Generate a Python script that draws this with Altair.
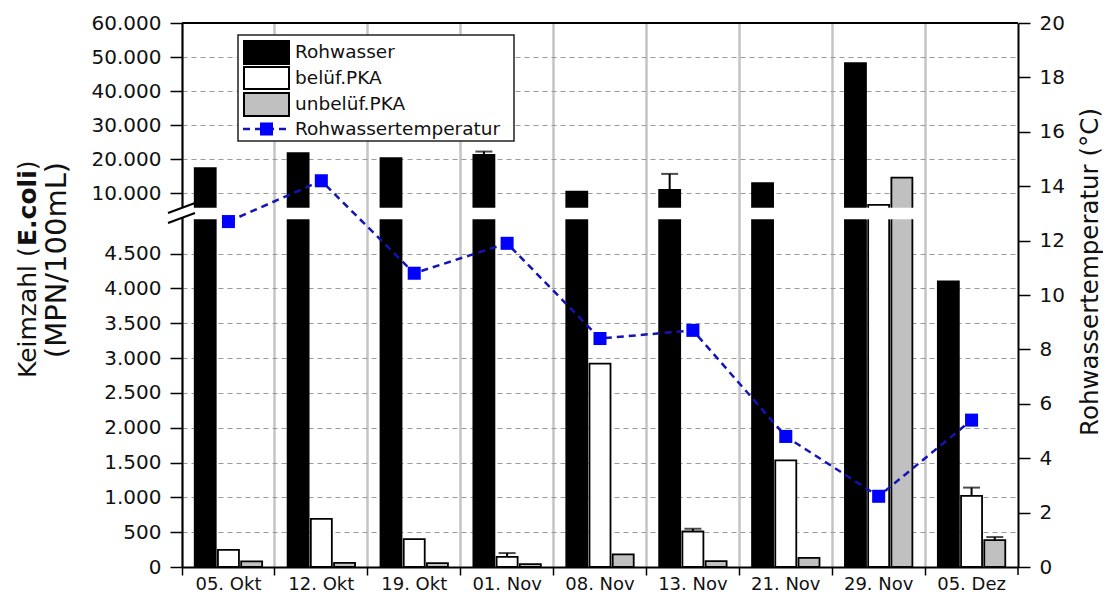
import altair as alt
import pandas as pd

# ---------------- data ----------------
dates = ["05. Okt", "12. Okt", "19. Okt", "01. Nov", "08. Nov",
         "13. Nov", "21. Nov", "29. Nov", "05. Dez"]
series = ["Rohwasser", "belüf.PKA", "unbelüf.PKA"]
rohwasser = [17400, 21800, 20300, 21300, 10500, 11000, 13000, 48200, 4100]
rohwasser_err = [None, None, None, 22260, None, 15700, None, None, None]
beluef = [245, 690, 400, 145, 2920, 510, 1530, 6600, 1020]
beluef_err = [None, None, None, 200, None, 550, None, None, 1140]
unbeluef = [80, 60, 55, 40, 180, 85, 130, 14600, 385]
unbeluef_err = [None, None, None, None, None, None, None, None, 430]
temperature = [12.7, 14.2, 10.8, 11.9, 8.4, 8.7, 4.8, 2.6, 5.4]
left_ticks = [0, 500, 1000, 1500, 2000, 2500, 3000, 3500, 4000, 4500,
              10000, 20000, 30000, 40000, 50000, 60000]
right_ticks = [0, 2, 4, 6, 8, 10, 12, 14, 16, 18, 20]

# ---------------- broken-axis mapping ----------------
BRK_LO = 5000      # lower segment ends here (display units == real units)
BRK_HI = 5150      # upper segment starts here (display units)
UP_REF = 10000     # a real value in the upper segment ...
UP_POS = 5365      # ... and its display position
UP_K = 0.0489      # display units per real unit in the upper segment


def disp(v):
    return v if v <= BRK_LO else UP_POS + (v - UP_REF) * UP_K


def disp_expr(f):
    return (f"datum.{f} <= {BRK_LO} ? datum.{f} : "
            f"{UP_POS} + (datum.{f} - {UP_REF}) * {UP_K}")


Y_MAX = disp(60000)
W, H = 836, 544
FONT = "DejaVu Sans"

rows = []
for vals, errs, s in [(rohwasser, rohwasser_err, series[0]),
                      (beluef, beluef_err, series[1]),
                      (unbeluef, unbeluef_err, series[2])]:
    for d, v, e in zip(dates, vals, errs):
        rows.append({"date": d, "series": s, "v": v, "err": e})
df = pd.DataFrame(rows)
df_t = pd.DataFrame({"date": dates, "temp": temperature})

label_expr = ("datum.value <= 5000 ? replace(format(datum.value, ','), ',', '.') : "
              "replace(format(round((datum.value - 5365) / 0.0489 + 10000), ','), ',', '.')")

x_enc = alt.X("date:N", sort=dates,
              scale=alt.Scale(domain=dates, paddingInner=0, paddingOuter=0),
              axis=alt.Axis(title=None, bandPosition=0,
                            labelAngle=0, grid=True, gridColor="#c4c4c4",
                            gridWidth=2.5, tickSize=8, tickWidth=1.5,
                            tickColor="black", domainColor="black",
                            domainWidth=2, labelFontSize=18, labelPadding=0,
                            labelFont=FONT, labelColor="#111"))
xoff = alt.XOffset("series:N", sort=series,
                   scale=alt.Scale(domain=series, paddingInner=0.095,
                                   paddingOuter=0.548))
y_scale = alt.Scale(domain=[0, Y_MAX], nice=False, zero=True)
y_axis = alt.Axis(title=None, values=[disp(v) for v in left_ticks],
                  labelExpr=label_expr, grid=True, gridDash=[5, 4],
                  gridColor="#9a9a9a", gridWidth=1.2, tickSize=12,
                  tickWidth=1.5, tickColor="black", domainColor="black",
                  domainWidth=2, labelFontSize=20, labelPadding=9,
                  labelFont=FONT, labelColor="#111", orient="left")

base = alt.Chart(df).transform_calculate(
    d=disp_expr("v"),
    e=f"isValid(datum.err) ? ({disp_expr('err')}) : null",
    c0=f"{BRK_LO} + 20",
    c1=f"{BRK_HI} - 20",
)

bars = base.mark_bar(stroke="black", strokeWidth=1.8).encode(
    x=x_enc, xOffset=xoff,
    y=alt.Y("d:Q", scale=y_scale, axis=y_axis),
    fill=alt.Fill("series:N", scale=alt.Scale(domain=series,
                  range=["#000000", "#ffffff", "#c0c0c0"]), legend=None),
)

cover = base.transform_filter(f"datum.v > {BRK_LO}").mark_bar(
    fill="white", stroke="white", strokeWidth=4).encode(
    x=x_enc, xOffset=xoff,
    y=alt.Y("c0:Q", scale=y_scale, axis=y_axis), y2="c1:Q",
)

err_base = base.transform_filter("isValid(datum.err)")
err_rule = err_base.mark_rule(color="black", strokeWidth=2).encode(
    x=x_enc, xOffset=xoff,
    y=alt.Y("d:Q", scale=y_scale, axis=y_axis), y2="e:Q",
)
err_cap = err_base.mark_tick(color="black", thickness=2, size=17).encode(
    x=x_enc, xOffset=xoff,
    y=alt.Y("e:Q", scale=y_scale, axis=y_axis),
)

left_group = alt.layer(bars, cover, err_rule, err_cap)

t_scale = alt.Scale(domain=[0, 20], nice=False)
t_axis = alt.Axis(orient="right", title=None, values=right_ticks,
                  tickSize=12, tickWidth=1.5, tickColor="black",
                  domainColor="black", domainWidth=2, labelFontSize=20,
                  labelPadding=9, labelFont=FONT, labelColor="#111", grid=False)
t_base = alt.Chart(df_t)
t_line = t_base.mark_line(color="#1414b4", strokeWidth=2.5,
                          strokeDash=[7, 5]).encode(
    x=x_enc, y=alt.Y("temp:Q", scale=t_scale, axis=t_axis))
t_pts = t_base.mark_point(shape="square", filled=True, size=170,
                          color="#0000ff", opacity=1).encode(
    x=x_enc, y=alt.Y("temp:Q", scale=t_scale, axis=t_axis))
temp_group = alt.layer(t_line, t_pts)

# ---------------- decorations (frame, break marks, titles, legend) ----------------
one = alt.Data(values=[{"k": 1}])
deco = []
# top frame line and last bottom tick
deco.append(alt.Chart(one).mark_rule(color="black", strokeWidth=2).encode(
    x=alt.value(0), x2=alt.value(W), y=alt.value(0)))
deco.append(alt.Chart(one).mark_rule(color="black", strokeWidth=1.5).encode(
    x=alt.value(W), y=alt.value(H), y2=alt.value(H + 8)))
# axis break on the left axis
deco.append(alt.Chart(one).mark_rect(fill="white").encode(
    x=alt.value(-3), x2=alt.value(3), y=alt.value(185), y2=alt.value(195)))
for y0 in (190, 200):
    deco.append(alt.Chart(one).mark_rule(color="black", strokeWidth=2).encode(
        x=alt.value(-14), x2=alt.value(13), y=alt.value(y0), y2=alt.value(y0 - 10)))

# left title: "Keimzahl (E.coli)" with E.coli bold, and "(MPN/100mL)"
T1 = 25
parts = [("Keimzahl (", "normal", 5.281), ("E.coli", "bold", 3.029), (")", "normal", 0.39)]
ypos = 355
for txt, wt, em in parts:
    deco.append(alt.Chart(one).mark_text(
        text=txt, font=FONT, fontSize=T1, fontWeight=wt, angle=270,
        align="left", baseline="middle", color="#111").encode(
        x=alt.value(-154), y=alt.value(ypos)))
    ypos -= em * T1
deco.append(alt.Chart(one).mark_text(
    text="(MPN/100mL)", font=FONT, fontSize=29, angle=270,
    align="center", baseline="middle", color="#111").encode(
    x=alt.value(-125), y=alt.value(237)))
# right title
deco.append(alt.Chart(one).mark_text(
    text="Rohwassertemperatur (°C)", font=FONT, fontSize=24.5, angle=270,
    align="center", baseline="middle", color="#111").encode(
    x=alt.value(W + 73), y=alt.value(249)))

# legend
deco.append(alt.Chart(one).mark_rect(fill="white", stroke="#222", strokeWidth=1.5).encode(
    x=alt.value(56), x2=alt.value(332), y=alt.value(12), y2=alt.value(118)))
sw = [("#000000", 18, 41), ("#ffffff", 44, 66), ("#c0c0c0", 70, 93)]
for col, a, b in sw:
    deco.append(alt.Chart(one).mark_rect(fill=col, stroke="black", strokeWidth=2).encode(
        x=alt.value(62), x2=alt.value(107), y=alt.value(a), y2=alt.value(b)))
deco.append(alt.Chart(one).mark_rule(color="#1414b4", strokeWidth=2.5, strokeDash=[7, 5]).encode(
    x=alt.value(61), x2=alt.value(108), y=alt.value(106)))
deco.append(alt.Chart(one).mark_point(shape="square", filled=True, size=170,
                                      color="#0000ff", opacity=1).encode(
    x=alt.value(84.5), y=alt.value(106)))
leg_labels = ["Rohwasser", "belüf.PKA", "unbelüf.PKA", "Rohwassertemperatur"]
for lab, yy in zip(leg_labels, [29, 55, 81, 106]):
    deco.append(alt.Chart(one).mark_text(
        text=lab, font=FONT, fontSize=18.5, align="left", baseline="middle",
        color="#111").encode(x=alt.value(113), y=alt.value(yy)))

chart = alt.layer(left_group, temp_group, *deco).resolve_scale(
    y="independent").properties(
    width=W, height=H,
    autosize=alt.AutoSizeParams(type="none"),
    padding={"left": 174, "top": 15, "right": 85, "bottom": 31},
).configure_view(stroke=None).configure(background="white")

chart.save("out.html", embed_options={"renderer": "svg", "actions": False})
